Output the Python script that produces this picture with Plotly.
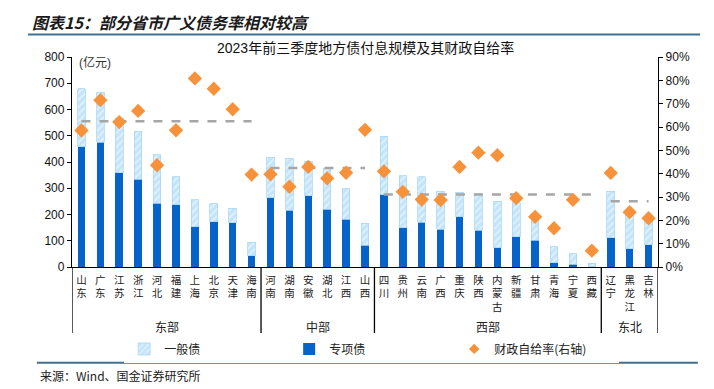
import plotly.graph_objects as go

provinces = ["山东", "广东", "江苏", "浙江", "河北", "福建", "上海", "北京", "天津", "海南",
             "河南", "湖南", "安徽", "湖北", "江西", "山西",
             "四川", "贵州", "云南", "广西", "重庆", "陕西", "内蒙古", "新疆", "甘肃", "青海", "宁夏", "西藏",
             "辽宁", "黑龙江", "吉林"]
special_bond = [459, 475, 359, 335, 242, 238, 154, 172, 169, 43,
                264, 217, 271, 220, 181, 83,
                276, 149, 171, 144, 192, 140, 73, 115, 102, 17, 10, 1,
                111, 69, 85]
total_bond = [679, 665, 567, 517, 428, 344, 257, 241, 224, 94,
              418, 414, 403, 376, 299, 166,
              498, 348, 343, 288, 284, 279, 250, 245, 176, 78, 51, 14,
              288, 204, 193]
general_bond = [t - s for t, s in zip(total_bond, special_bond)]
self_sufficiency = [58.5, 71.5, 62.1, 66.9, 43.6, 58.6, 80.8, 76.4, 67.6, 39.6,
                    39.7, 34.4, 42.9, 38.0, 40.4, 58.8,
                    41.0, 32.2, 28.9, 28.7, 42.9, 49.0, 47.9, 29.5, 21.5, 16.6, 28.8, 7.0,
                    40.3, 23.5, 20.9]
regions = ["东部", "中部", "西部", "东北"]
region_sizes = [10, 6, 12, 3]
region_means = [62.5, 42.4, 31.1, 28.2]
left_ticks = [0, 100, 200, 300, 400, 500, 600, 700, 800]
right_ticks = [0, 10, 20, 30, 40, 50, 60, 70, 80, 90]

CJK = "Noto Sans CJK SC"
NUM = "Liberation Sans, Arial, Noto Sans CJK SC"
ORANGE = "#F7923A"

fig = go.Figure()
fig.add_trace(go.Bar(
    x=provinces, y=special_bond, name="专项债", marker=dict(color="#0563C9", line=dict(width=0)),
    width=0.4, legendrank=2))
fig.add_trace(go.Bar(
    x=provinces, y=general_bond, name="一般债",
    marker=dict(color="#C3E4FA", line=dict(color="#A9D8F5", width=0.8),
                pattern=dict(shape="/", fgcolor="white", fillmode="overlay", size=5, solidity=0.35)),
    width=0.4, legendrank=1))

start = 0
for size, mean in zip(region_sizes, region_means):
    xs = [provinces[start], provinces[start + size - 1]]
    fig.add_trace(go.Scatter(
        x=xs, y=[mean, mean], yaxis="y2", mode="lines",
        line=dict(color="#A6A6A6", width=2.5, dash="dash"), showlegend=False, hoverinfo="skip"))
    start += size

fig.add_trace(go.Scatter(
    x=provinces, y=self_sufficiency, yaxis="y2", mode="markers", name="财政自给率(右轴)",
    marker=dict(symbol="diamond", size=11, color=ORANGE), showlegend=False))
# legend entry with a smaller symbol (as in the reference legend)
fig.add_trace(go.Scatter(
    x=[None], y=[None], yaxis="y2", mode="markers", name="财政自给率(右轴)",
    marker=dict(symbol="diamond", size=8, color=ORANGE), legendrank=3))

layout_shapes = []
annotations = []
bounds = [-0.5]
pos = -0.5
for s in region_sizes:
    pos += s
    bounds.append(pos)
for b in bounds:
    layout_shapes.append(dict(type="line", xref="x", yref="paper", x0=b, x1=b, y0=0, y1=-0.314,
                              line=dict(color="#000000", width=1.3)))
start = 0
for name, size in zip(regions, region_sizes):
    annotations.append(dict(x=start + (size - 1) / 2, y=-0.282, xref="x", yref="paper", text=name,
                            yanchor="middle", showarrow=False,
                            font=dict(family=CJK, size=12, color="#222")))
    start += size

layout_shapes.append(dict(type="line", xref="paper", yref="paper", x0=-0.075, x1=1.072, y0=1.107, y1=1.107,
                          line=dict(color="#41708F", width=2)))
layout_shapes.append(dict(type="line", xref="paper", yref="paper", x0=-0.06, x1=1.068, y0=-0.456, y1=-0.456,
                          line=dict(color="#41708F", width=2)))

annotations += [
    dict(x=-0.072, y=1.167, xref="paper", yref="paper", xanchor="left", yanchor="middle",
         text="<b><i>图表15：部分省市广义债务率相对较高</i></b>", showarrow=False,
         font=dict(family=CJK, size=16, color="#1a1a1a")),
    dict(x=0.5, y=1.045, xref="paper", yref="paper", xanchor="center", yanchor="middle",
         text="2023年前三季度地方债付息规模及其财政自给率", showarrow=False,
         font=dict(family=NUM, size=14, color="#111")),
    dict(x=0.008, y=0.975, xref="paper", yref="paper", xanchor="left", yanchor="middle",
         text="(亿元)", showarrow=False, font=dict(family=NUM, size=12, color="#333")),
    dict(x=-0.058, y=-0.519, xref="paper", yref="paper", xanchor="left", yanchor="middle",
         text="来源：Wind、国金证券研究所", showarrow=False, font=dict(family=CJK, size=12, color="#222")),
]

fig.update_layout(
    width=714, height=389, autosize=False,
    margin=dict(l=72, r=56, t=57, b=122, autoexpand=False),
    paper_bgcolor="white", plot_bgcolor="white",
    barmode="stack", bargap=0.5,
    showlegend=True,
    legend=dict(orientation="h", x=0.089, y=-0.39, xanchor="left", yanchor="middle",
                traceorder="normal", entrywidth=120, entrywidthmode="pixels",
                font=dict(family=CJK, size=12, color="#222"), itemwidth=30),
    xaxis=dict(type="category", tickvals=provinces, ticktext=["<br>".join(p) for p in provinces],
               tickfont=dict(family=CJK, size=10.5, color="#222"), ticks="", showline=True,
               linecolor="#000", linewidth=1.3, range=[-0.5, 30.5], showgrid=False, tickangle=0,
               automargin=False, ticklabelstandoff=3),
    yaxis=dict(range=[0, 800], tickvals=left_ticks, showgrid=False, showline=True, linecolor="#000",
               linewidth=1.3, ticks="outside", ticklen=4, tickcolor="#000",
               tickfont=dict(family=NUM, size=12, color="#111"), zeroline=False, automargin=False),
    yaxis2=dict(range=[0, 90], tickvals=right_ticks, ticktext=[f"{v}%" for v in right_ticks],
                overlaying="y", side="right", showgrid=False, showline=True, linecolor="#000",
                linewidth=1.3, ticks="outside", ticklen=4, tickcolor="#000",
                tickfont=dict(family=NUM, size=12, color="#111"), zeroline=False, automargin=False),
    shapes=layout_shapes, annotations=annotations,
    font=dict(family=NUM),
)

fig.write_html("out.html", config={"displayModeBar": False},
               post_script="document.body.style.margin='0';")
